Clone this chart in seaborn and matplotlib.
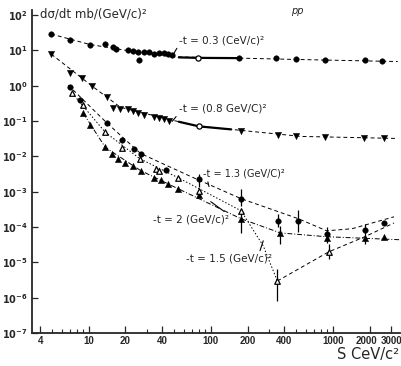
import numpy as np
import pandas as pd
import seaborn as sns
import matplotlib.pyplot as plt
from matplotlib import transforms
from matplotlib.ticker import FixedLocator, NullFormatter, LogLocator

# pp elastic cross sections
# -t = 0.3 (GeV/c)^2, filled circles
s_03 = [4.93, 7.05, 10.3, 13.7, 15.9, 16.6, 20.9, 22.9, 25.1, 25.6, 28.2, 30.9,
        34.0, 37.4, 41.1, 44.4, 48.3, 171, 344, 503, 856, 1828, 2525]
y_03 = [28.8, 19.5, 14.1, 15.0, 12.3, 10.8, 10.1, 9.5, 8.9, 5.3, 8.9, 8.9,
        7.8, 8.3, 8.3, 7.8, 7.3, 6.0, 6.0, 5.6, 5.3, 5.3, 4.9]
fit_03_s = [4.93, 10.3, 22, 50, 171, 500, 3400]
fit_03_y = [28.8, 14.5, 9.5, 6.5, 6.0, 5.5, 4.8]
solid_03_s = [54.7, 78.5, 171]
solid_03_y = [6.3, 6.1, 6.0]

# -t = 0.8 (GeV/c)^2, filled inverted triangles
s_08 = [4.93, 7.05, 8.85, 10.7, 14.0, 15.9, 18.2, 20.9, 22.9, 25.1, 28.2, 34.0,
        37.4, 41.1, 45.3, 177, 357, 503, 856, 1793, 2620]
y_08 = [7.8, 2.25, 1.62, 0.96, 0.468, 0.228, 0.214, 0.214, 0.187, 0.164, 0.144, 0.126,
        0.119, 0.111, 0.0975, 0.0507, 0.039, 0.0365, 0.0342, 0.032, 0.032]
fit_08_s = [4.93, 10.7, 18.2, 49.8, 80, 147, 553, 3355]
fit_08_y = [7.8, 0.96, 0.243, 0.103, 0.0703, 0.0577, 0.0365, 0.032]
solid_08_s = [54.7, 80, 147]
solid_08_y = [0.095, 0.0703, 0.0577]

# -t = 1.3 (GeV/c)^2, filled circles
s_13 = [7.05, 8.53, 14.2, 18.9, 23.3, 26.6, 42.7, 80.0, 177, 357, 523, 889, 1828, 2620]
y_13 = [0.90, 0.385, 0.0855, 0.0281, 0.0156, 0.0120, 0.00421, 0.00234, 6.33e-4,
        1.50e-4, 1.50e-4, 6.4e-5, 8.3e-5, 1.32e-4]
fit_13_s = [6.79, 14.2, 26.6, 68.7, 177, 523, 889, 1430, 3170]
fit_13_y = [1.03, 0.0855, 0.012, 0.00267, 6.33e-4, 1.71e-4, 7.8e-5, 8.9e-5, 1.94e-4]

# -t = 1.5 (GeV/c)^2, open triangles
s_15 = [7.33, 9.03, 13.7, 18.9, 26.1, 35.4, 37.4, 53.7, 80.0, 177, 351, 923]
y_15 = [0.608, 0.277, 0.0474, 0.0167, 0.00866, 0.0045, 0.00395, 0.0025, 0.00107,
        2.88e-4, 2.96e-6, 1.97e-5]
fit_15_s = [7.33, 13.7, 26.1, 53.7, 177, 269, 351]
fit_15_y = [0.608, 0.0474, 0.00866, 0.0025, 2.88e-4, 2.92e-5, 2.96e-6]
fit_15b_s = [351, 923, 1828, 3170]
fit_15b_y = [2.96e-6, 1.97e-5, 5.3e-5, 1.3e-4]

# -t = 2 (GeV/c)^2, filled triangles
s_2 = [9.03, 10.3, 13.7, 15.6, 17.5, 20.0, 22.9, 26.6, 34.0, 38.9, 44.4, 53.7,
       80.0, 177, 371, 889, 1828, 2620]
y_2 = [0.164, 0.075, 0.0178, 0.0120, 0.00866, 0.00667, 0.00548, 0.00395, 0.0025,
       0.00219, 0.00169, 0.00122, 8.22e-4, 1.71e-4, 6.8e-5, 4.9e-5, 4.9e-5, 5.3e-5]
fit_2_s = [9.03, 13.7, 26.6, 53.7, 177, 371, 889, 3690]
fit_2_y = [0.164, 0.0178, 0.00395, 0.00122, 1.71e-4, 6.8e-5, 5.3e-5, 4.33e-5]

# error bars (S, low, high)
err_s = [80.0, 177, 177, 357, 523, 371, 351, 889, 923, 1828]
err_lo = [1.39e-3, 4.0e-4, 6.8e-5, 1.0e-4, 7.3e-5, 3.3e-5, 8.0e-7, 3.56e-5, 1.25e-5, 3.3e-5]
err_hi = [3.24e-3, 1.22e-3, 2.53e-4, 2.37e-4, 3.1e-4, 1.05e-4, 6.4e-6, 1.0e-4, 3.33e-5, 1.2e-4]

x_ticks = [4, 10, 20, 40, 100, 200, 400, 1000, 2000, 3000]
y_ticks = [1e-7, 1e-6, 1e-5, 1e-4, 1e-3, 1e-2, 1e-1, 1e0, 1e1, 1e2]
y_tick_labels = [r'$10^{-7}$', r'$10^{-6}$', r'$10^{-5}$', r'$10^{-4}$', r'$10^{-3}$',
                 r'$10^{-2}$', r'$10^{-1}$', r'$10^{0}$', r'$10^{1}$', r'$10^{2}$']

sns.set_style('ticks')
plt.rcParams['font.family'] = ['DejaVu Sans']
plt.rcParams['mathtext.default'] = 'bf'

fig = plt.figure(figsize=(4.01, 3.66), dpi=100)
ax = fig.add_axes([32 / 401, 33 / 366, 368 / 401, 323 / 366])
ax.set_xscale('log')
ax.set_yscale('log')

dash_kw = dict(color='black', linewidth=0.7, sort=False, estimator=None, ax=ax, legend=False)

sns.lineplot(x=fit_03_s, y=fit_03_y, linestyle=(0, (4, 3)), **dash_kw)
sns.lineplot(x=fit_08_s, y=fit_08_y, linestyle=(0, (4, 3)), **dash_kw)
sns.lineplot(x=fit_13_s, y=fit_13_y, linestyle=(0, (4, 3)), **dash_kw)
sns.lineplot(x=fit_15_s, y=fit_15_y, linestyle=(0, (1.5, 2)), **dash_kw)
sns.lineplot(x=fit_15b_s, y=fit_15b_y, linestyle=(0, (4, 3)), **dash_kw)
sns.lineplot(x=fit_2_s, y=fit_2_y, linestyle=(0, (5, 2, 1, 2)), **dash_kw)

solid_kw = dict(color='black', linewidth=1.6, sort=False, estimator=None, ax=ax, legend=False)
sns.lineplot(x=solid_03_s, y=solid_03_y, **solid_kw)
sns.lineplot(x=solid_08_s, y=solid_08_y, **solid_kw)

ax.vlines(err_s, err_lo, err_hi, color='black', linewidth=0.9)

pt_kw = dict(ax=ax, color='black', edgecolor='black', legend=False, zorder=3)
sns.scatterplot(x=s_03, y=y_03, marker='o', s=16, **pt_kw)
sns.scatterplot(x=s_08, y=y_08, marker='v', s=20, **pt_kw)
sns.scatterplot(x=s_13, y=y_13, marker='o', s=16, **pt_kw)
sns.scatterplot(x=s_2, y=y_2, marker='^', s=20, **pt_kw)
sns.scatterplot(x=s_15, y=y_15, marker='^', s=16, ax=ax, facecolor='white',
                edgecolor='black', linewidth=0.9, legend=False, zorder=3)
sns.scatterplot(x=[solid_03_s[1], solid_08_s[1]], y=[solid_03_y[1], solid_08_y[1]],
                marker='o', s=14, ax=ax, facecolor='white', edgecolor='black',
                linewidth=0.9, legend=False, zorder=4)

ax.set_xlim(3.43, 3550)
ax.set_ylim(1e-7, 138)

ax.xaxis.set_major_locator(FixedLocator(x_ticks))
ax.set_xticklabels([str(v) for v in x_ticks], fontsize=7, fontweight='bold',
                   family=['Liberation Sans', 'DejaVu Sans'])
ax.xaxis.set_minor_locator(LogLocator(base=10, subs=np.arange(2, 10)))
ax.xaxis.set_minor_formatter(NullFormatter())
ax.yaxis.set_major_locator(FixedLocator(y_ticks))
ax.set_yticklabels(y_tick_labels, fontsize=7)
ax.yaxis.set_minor_locator(FixedLocator([]))

ax.tick_params(axis='y', which='major', direction='in', length=4, width=0.9, pad=3)
ax.tick_params(axis='x', which='major', direction='in', length=5, width=0.9, pad=2)
ax.tick_params(axis='x', which='minor', direction='in', length=3, width=0.8)
sns.despine(ax=ax)
for side in ['left', 'bottom']:
    ax.spines[side].set_linewidth(1.3)

# the two last x labels sit very close, as in the scan: nudge 2000 a little left
nudge = transforms.ScaledTranslation(-3 / 100, 0, fig.dpi_scale_trans)
lbl_2000 = ax.get_xticklabels()[x_ticks.index(2000)]
lbl_2000.set_transform(lbl_2000.get_transform() + nudge)

arrow = dict(arrowstyle='-', color='black', linewidth=0.8, shrinkA=0, shrinkB=0)
ax.annotate('-t = 0.3 (CeV/c)²', xy=(48.3, 6.8), xytext=(54.7, 19.5), fontsize=7.5,
            va='center', ha='left', arrowprops=dict(relpos=(0, 0), **arrow))
ax.annotate('-t = (0.8 GeV/C)²', xy=(48.3, 0.0975), xytext=(54.7, 0.228), fontsize=7.5,
            va='center', ha='left', arrowprops=dict(relpos=(0, 0), **arrow))
ax.annotate('-t = 1.3 (GeV/C)²', xy=(96.7, 0.00139), xytext=(86.3, 0.00324), fontsize=7,
            va='center', ha='left', arrowprops=dict(relpos=(0.05, 0), **arrow))
ax.annotate('-t = 2 (GeV/c)²', xy=(100, 5.2e-4), xytext=(33.4, 1.6e-4), fontsize=7.5,
            va='center', ha='left', arrowprops=dict(relpos=(1, 1), **arrow))
ax.annotate('-t = 1.5 (GeV/c)²', xy=(269, 4.06e-5), xytext=(62.5, 1.25e-5), fontsize=7.5,
            va='center', ha='left', arrowprops=dict(relpos=(0.85, 1), **arrow))

fig.text(40 / 401, 1 - 14 / 366, 'dσ/dt mb/(GeV/c)²', fontsize=8.5, ha='left', va='center')
fig.text(297 / 401, 1 - 11 / 366, 'pp', fontsize=7, style='italic', ha='center', va='center')
fig.text(337 / 401, 1 - 355 / 366, 'S CeV/c²', fontsize=10.5, ha='left', va='center')

fig.savefig('out.png', dpi=100)
